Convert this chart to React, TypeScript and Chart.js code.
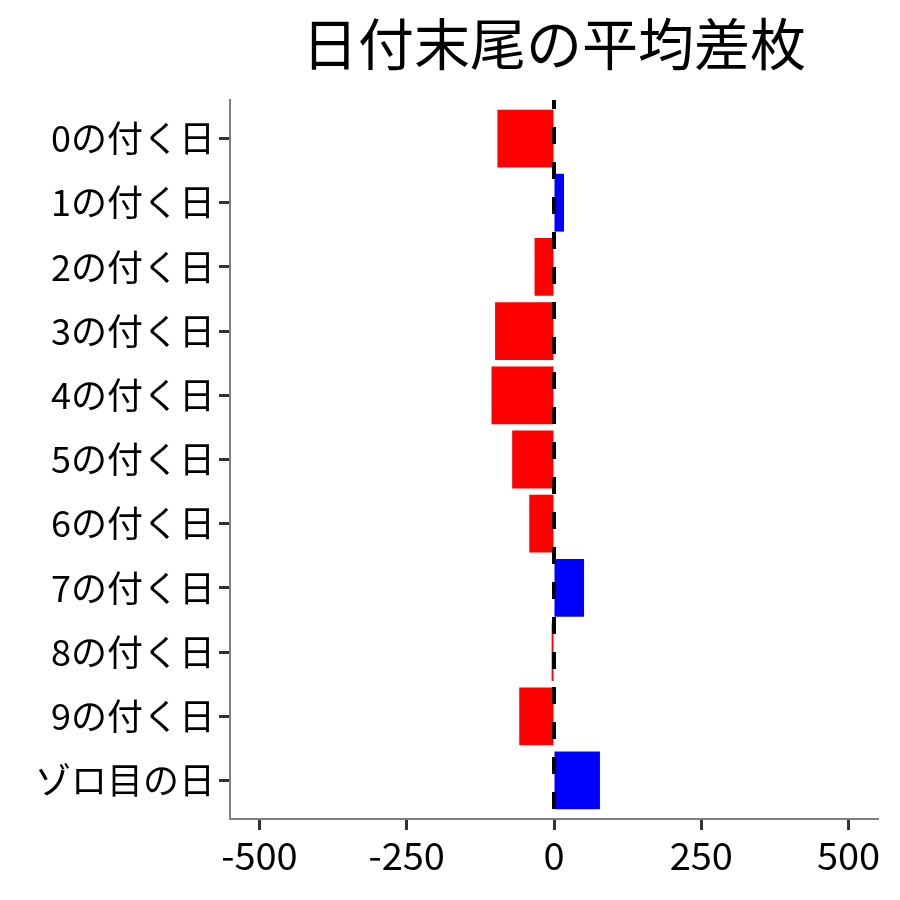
import { useEffect, useRef } from 'react';
import { Chart, registerables } from 'chart.js';

Chart.register(...registerables);

const FONT = '"Noto Sans CJK JP", "Noto Sans", sans-serif';

const TITLE = '日付末尾の平均差枚';

const categories = [
  '0の付く日',
  '1の付く日',
  '2の付く日',
  '3の付く日',
  '4の付く日',
  '5の付く日',
  '6の付く日',
  '7の付く日',
  '8の付く日',
  '9の付く日',
  'ゾロ目の日',
];

// average difference per date ending
const avgDiff = [-96, 17, -33, -100, -106, -71, -42, 51, -4, -59, 78];

const xTicks = [-500, -250, 0, 250, 500];

export default function App(): JSX.Element {
  const canvasRef = useRef<HTMLCanvasElement>(null);
  const chartRef = useRef<Chart | null>(null);

  useEffect(() => {
    if (!canvasRef.current) return;
    if (chartRef.current) chartRef.current.destroy();

    // dashed zero line over the bars, then the title centred on the panel
    const overlayPlugin = {
      id: 'overlay',
      afterDatasetsDraw(chart: Chart): void {
        const { ctx, chartArea } = chart;
        const x0 = chart.scales.x.getPixelForValue(0);
        ctx.save();
        ctx.strokeStyle = '#000';
        ctx.lineWidth = 4;
        ctx.setLineDash([17, 18]);
        ctx.lineDashOffset = 8;
        ctx.beginPath();
        ctx.moveTo(x0, chartArea.top);
        ctx.lineTo(x0, chartArea.bottom);
        ctx.stroke();
        ctx.restore();
      },
      afterDraw(chart: Chart): void {
        const { ctx, chartArea } = chart;
        ctx.save();
        ctx.font = `56px ${FONT}`;
        ctx.fillStyle = '#000';
        ctx.textAlign = 'center';
        ctx.textBaseline = 'middle';
        ctx.fillText(TITLE, (chartArea.left + chartArea.right) / 2, 44);
        ctx.restore();
      },
    };

    chartRef.current = new Chart(canvasRef.current, {
      type: 'bar',
      plugins: [overlayPlugin],
      data: {
        datasets: [
          {
            data: avgDiff.map((v, i) => ({ x: v, y: i })),
            backgroundColor: avgDiff.map(v => (v < 0 ? '#ff0000' : '#0000ff')),
            borderWidth: 0,
            barPercentage: 0.9,
            categoryPercentage: 1,
          },
        ],
      },
      options: {
        indexAxis: 'y',
        animation: false,
        responsive: true,
        maintainAspectRatio: false,
        layout: { padding: { top: 100, right: 22, left: 0, bottom: 0 } },
        plugins: {
          legend: { display: false },
          tooltip: { enabled: false },
          title: { display: false },
        },
        scales: {
          x: {
            type: 'linear',
            min: -550,
            max: 550,
            afterFit: (scale: any) => { scale.height = 81; },
            afterBuildTicks: (scale: any) => { scale.ticks = xTicks.map(v => ({ value: v })); },
            ticks: {
              stepSize: 250,
              autoSkip: false,
              includeBounds: false,
              padding: 3,
              color: '#000',
              font: { family: FONT, size: 38 },
              maxRotation: 0,
            },
            grid: {
              drawOnChartArea: false,
              drawTicks: true,
              tickLength: 11,
              tickWidth: 3,
              tickColor: '#333333',
            },
            border: { color: '#7f7f7f', width: 2 },
          },
          y: {
            type: 'linear',
            reverse: true,
            offset: false,
            min: -0.6,
            max: 10.6,
            afterFit: (scale: any) => { scale.width = 230; },
            ticks: {
              stepSize: 1,
              autoSkip: false,
              includeBounds: false,
              padding: 4,
              color: '#000',
              font: { family: FONT, size: 36 },
              callback: (v: any) => (Number.isInteger(v) ? categories[v] ?? '' : ''),
            },
            grid: {
              offset: false,
              drawOnChartArea: false,
              drawTicks: true,
              tickLength: 11,
              tickWidth: 3,
              tickColor: '#333333',
            },
            border: { color: '#7f7f7f', width: 2 },
          },
        },
      },
    });

    return () => { chartRef.current?.destroy(); };
  }, []);

  return (
    <div style={{ position: 'absolute', left: 0, top: 0, width: '900px', height: '900px', background: '#fff' }}>
      <canvas
        ref={canvasRef}
        role="img"
        aria-label="Horizontal bar chart of average difference by date ending."
      />
    </div>
  );
}
